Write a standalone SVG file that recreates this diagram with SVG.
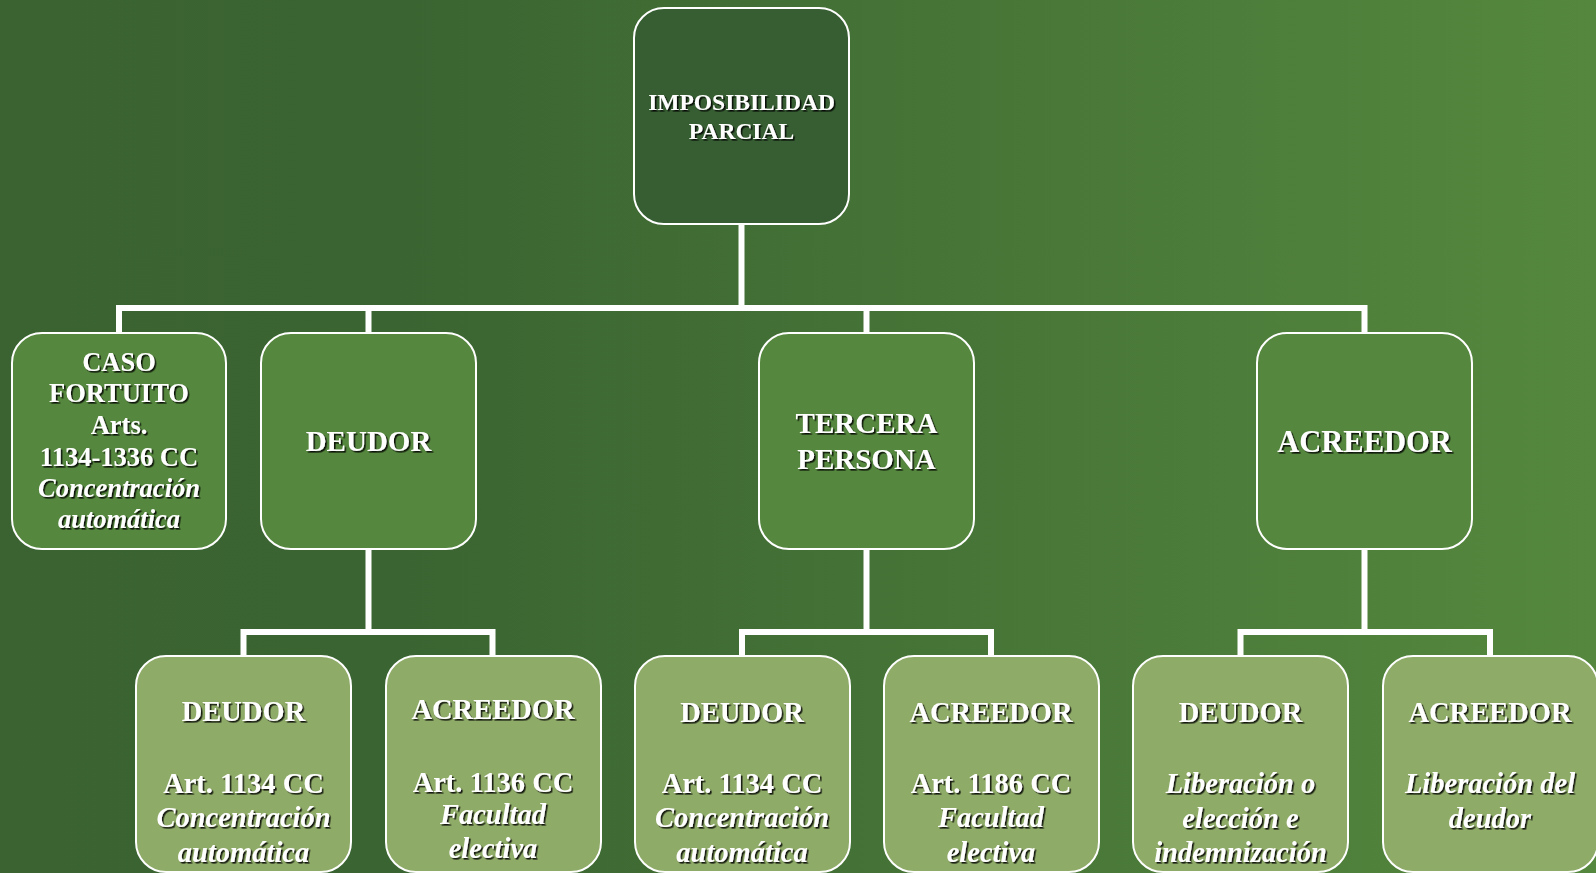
<svg xmlns="http://www.w3.org/2000/svg" width="1596" height="873" viewBox="0 0 1596 873">
<defs>
<linearGradient id="bg" x1="0" y1="0" x2="1" y2="0">
<stop offset="0" stop-color="#3a6331"/>
<stop offset="0.25" stop-color="#3a6431"/>
<stop offset="1" stop-color="#55883e"/>
</linearGradient>
<filter id="sh" x="-10%" y="-20%" width="120%" height="150%">
<feDropShadow dx="1.6" dy="1.6" stdDeviation="0.4" flood-color="#000" flood-opacity="0.85"/>
</filter>
</defs>
<style>
.box{stroke:#fff;stroke-width:2}
.l1{fill:#365e32}
.l2{fill:#55873e}
.l3{fill:#8fab68}
text{font-family:"Liberation Serif","Times New Roman",serif;font-weight:bold;fill:#fff;text-anchor:middle;filter:url(#sh)}
.i{font-style:italic}
.conn{fill:none;stroke:#fff;stroke-width:6;stroke-linejoin:miter;stroke-linecap:butt}
</style>
<rect width="1596" height="873" fill="url(#bg)"/>
<g id="connectors" class="conn">
<path d="M741.5,224 V308"/>
<path d="M119,333 V308 H1364.5 V333"/>
<path d="M368.5,308 V333"/>
<path d="M866.5,308 V333"/>
<path d="M368.5,549 V632"/>
<path d="M243.5,656 V632 H492.5 V656"/>
<path d="M866.5,549 V632"/>
<path d="M742,656 V632 H991 V656"/>
<path d="M1364.5,549 V632"/>
<path d="M1240.5,656 V632 H1490 V656"/>
</g>
<g id="n-root">
<rect class="box l1" x="634" y="8" width="215" height="216" rx="30"/>
<text x="741.5" y="110" font-size="23.5">IMPOSIBILIDAD</text>
<text x="741.5" y="139" font-size="23.5">PARCIAL</text>
</g>
<g id="n-caso" font-size="26.5">
<rect class="box l2" x="12" y="333" width="214" height="216" rx="30"/>
<text x="119" y="371" font-size="26.5">CASO</text>
<text x="119" y="402" font-size="26.5">FORTUITO</text>
<text x="119" y="434" font-size="26.5">Arts.</text>
<text x="119" y="466" font-size="26.5">1134-1336 CC</text>
<text x="119" y="497" font-size="26.5" class="i">Concentración</text>
<text x="119" y="528" font-size="26.5" class="i">automática</text>
</g>
<g id="n-deudor">
<rect class="box l2" x="261" y="333" width="215" height="216" rx="30"/>
<text x="368.5" y="451" font-size="29">DEUDOR</text>
</g>
<g id="n-tercera">
<rect class="box l2" x="759" y="333" width="215" height="216" rx="30"/>
<text x="866.5" y="433" font-size="29">TERCERA</text>
<text x="866.5" y="469" font-size="29">PERSONA</text>
</g>
<g id="n-acreedor">
<rect class="box l2" x="1257" y="333" width="215" height="216" rx="30"/>
<text x="1364.5" y="452" font-size="30.5">ACREEDOR</text>
</g>
<g id="n-d-deudor">
<rect class="box l3" x="136" y="656" width="215" height="216" rx="30"/>
<text x="243.5" y="721" font-size="28.5">DEUDOR</text>
<text x="243.5" y="793" font-size="28.5">Art. 1134 CC</text>
<text x="243.5" y="827" font-size="28.5" class="i">Concentración</text>
<text x="243.5" y="862" font-size="28.5" class="i">automática</text>
</g>
<g id="n-d-acreedor">
<rect class="box l3" x="386" y="656" width="215" height="216" rx="30"/>
<text x="493" y="719" font-size="28.5">ACREEDOR</text>
<text x="493" y="792" font-size="28.5">Art. 1136 CC</text>
<text x="493" y="824" font-size="28.5" class="i">Facultad</text>
<text x="493" y="858" font-size="28.5" class="i">electiva</text>
</g>
<g id="n-t-deudor">
<rect class="box l3" x="635" y="656" width="215" height="216" rx="30"/>
<text x="742" y="722" font-size="28.5">DEUDOR</text>
<text x="742" y="793" font-size="28.5">Art. 1134 CC</text>
<text x="742" y="827" font-size="28.5" class="i">Concentración</text>
<text x="742" y="862" font-size="28.5" class="i">automática</text>
</g>
<g id="n-t-acreedor">
<rect class="box l3" x="884" y="656" width="215" height="216" rx="30"/>
<text x="991" y="722" font-size="28.5">ACREEDOR</text>
<text x="991" y="793" font-size="28.5">Art. 1186 CC</text>
<text x="991" y="827" font-size="28.5" class="i">Facultad</text>
<text x="991" y="862" font-size="28.5" class="i">electiva</text>
</g>
<g id="n-a-deudor">
<rect class="box l3" x="1133" y="656" width="215" height="216" rx="30"/>
<text x="1240.5" y="722" font-size="28.5">DEUDOR</text>
<text x="1240.5" y="793" font-size="28.5" class="i">Liberación o</text>
<text x="1240.5" y="828" font-size="28.5" class="i">elección e</text>
<text x="1240.5" y="862" font-size="28.5" class="i">indemnización</text>
</g>
<g id="n-a-acreedor">
<rect class="box l3" x="1383" y="656" width="215" height="216" rx="30"/>
<text x="1490" y="722" font-size="28.5">ACREEDOR</text>
<text x="1490" y="793" font-size="28.5" class="i">Liberación del</text>
<text x="1490" y="828" font-size="28.5" class="i">deudor</text>
</g>
</svg>
